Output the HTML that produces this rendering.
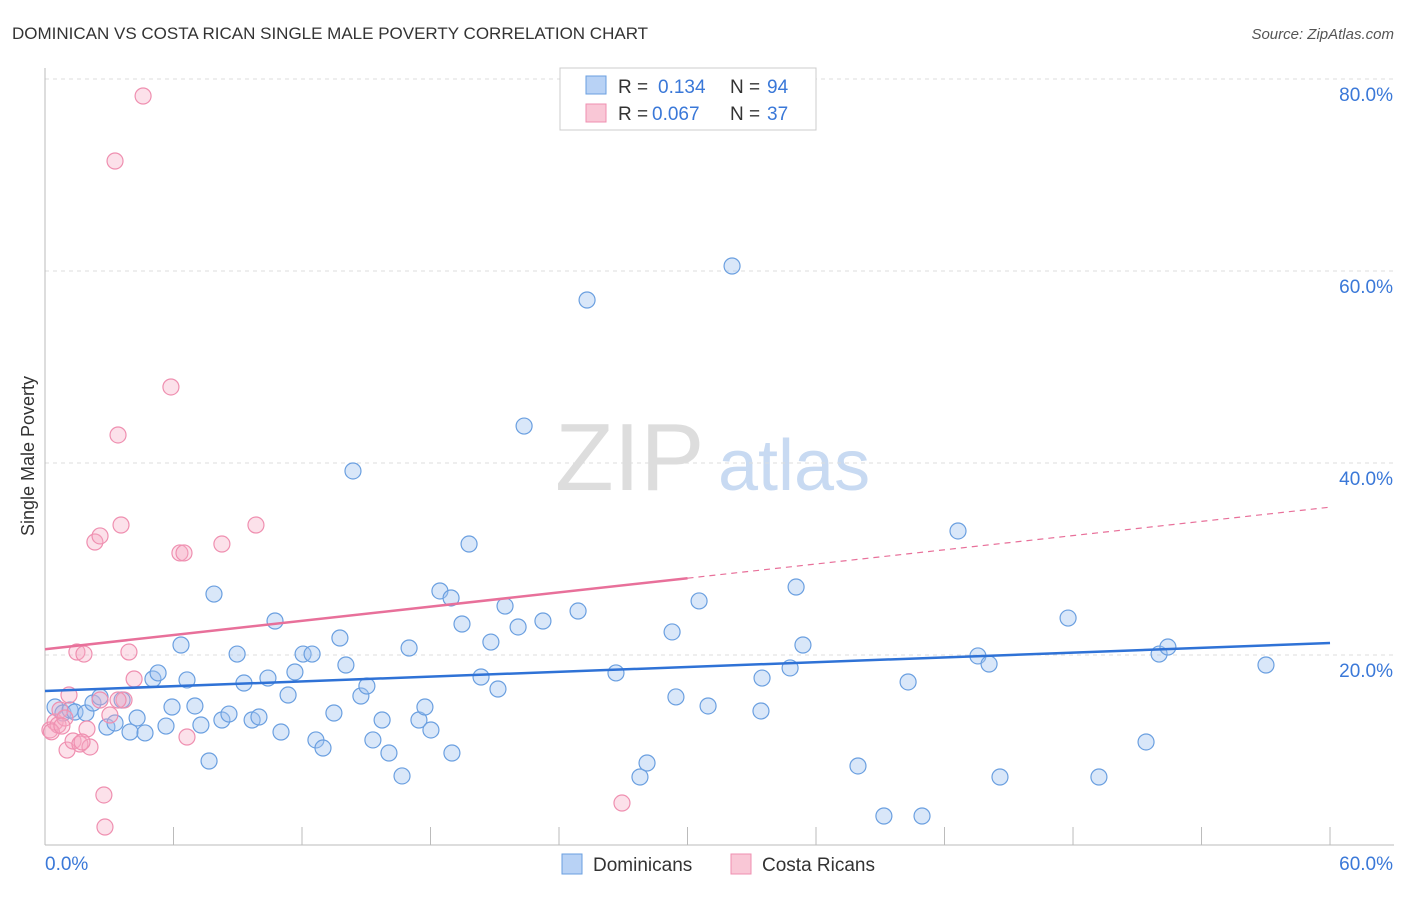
<!DOCTYPE html>
<html><head><meta charset="utf-8"><style>
body{margin:0;background:#fff;font-family:"Liberation Sans",sans-serif}
svg text{font-family:"Liberation Sans",sans-serif}
</style></head><body>
<svg id="c" width="1406" height="892">
<text x="12" y="39" font-size="17" fill="#333">DOMINICAN VS COSTA RICAN SINGLE MALE POVERTY CORRELATION CHART</text>
<text x="1394" y="39" font-size="15" fill="#555" font-style="italic" text-anchor="end">Source: ZipAtlas.com</text>
<text x="34" y="456" font-size="18" fill="#333" text-anchor="middle" transform="rotate(-90 34 456)">Single Male Poverty</text>
<text x="555" y="490" font-size="96" fill="#ddd" font-family="Liberation Serif">ZIP</text>
<text x="718" y="490" font-size="72" fill="#c8daf2">atlas</text>
<g id="grid"></g><g id="pts"></g><g id="lines"></g>
<g>
<rect x="560" y="68" width="256" height="62" fill="#fff" stroke="#ccc"/>
<rect x="586" y="76" width="20" height="18" fill="#b8d2f5" stroke="#6a9fe0"/>
<text x="618" y="93" font-size="19" fill="#333">R = </text><text x="658" y="93" font-size="19" fill="#3a78d8">0.134</text>
<text x="730" y="93" font-size="19" fill="#333">N = </text><text x="767" y="93" font-size="19" fill="#3a78d8">94</text>
<rect x="586" y="104" width="20" height="18" fill="#f9c7d6" stroke="#ef8fb0"/>
<text x="618" y="120" font-size="19" fill="#333">R = </text><text x="652" y="120" font-size="19" fill="#3a78d8">0.067</text>
<text x="730" y="120" font-size="19" fill="#333">N = </text><text x="767" y="120" font-size="19" fill="#3a78d8">37</text>
</g>
<g>
<rect x="562" y="854" width="20" height="20" fill="#b8d2f5" stroke="#6a9fe0"/>
<text x="593" y="871" font-size="19" fill="#333">Dominicans</text>
<rect x="731" y="854" width="20" height="20" fill="#f9c7d6" stroke="#ef8fb0"/>
<text x="762" y="871" font-size="19" fill="#333">Costa Ricans</text>
</g>
</svg>
<script>
const xTicks=[0,6,12,18,24,30,36,42,48,54,60];
const yTicks=[20,40,60,80];
const yTickLabels=["20.0%","40.0%","60.0%","80.0%"];
const domX=[0.47,0.84,1.17,1.40,1.91,2.24,2.57,2.89,3.27,3.60,3.97,4.30,4.67,5.04,5.28,5.65,5.93,6.35,6.63,7.0,7.28,7.66,7.89,8.26,8.59,8.97,9.29,9.67,9.99,10.41,10.74,11.02,11.35,11.67,12.05,12.47,12.65,12.98,13.49,13.77,14.05,14.38,14.75,15.03,15.31,15.74,16.06,16.67,17.0,17.46,17.74,18.02,18.44,18.96,19.0,19.47,19.8,20.36,20.82,21.15,21.48,22.09,22.37,23.25,24.89,25.31,26.66,27.78,28.11,29.28,29.46,30.54,30.96,32.08,33.43,33.48,34.79,35.07,35.39,37.96,39.17,40.3,40.95,42.63,43.56,44.08,44.59,47.77,49.21,51.41,52.02,52.43,57.01];
const domY=[14.58,13.96,14.27,14.06,13.96,15.0,15.63,12.5,12.92,15.31,11.98,13.44,11.88,17.5,18.13,12.6,14.58,21.04,17.4,14.69,12.71,8.96,26.35,13.23,13.85,20.1,17.08,13.23,13.54,17.6,23.54,11.98,15.83,18.23,20.1,20.1,11.15,10.31,13.96,21.77,18.96,39.17,15.73,16.77,11.15,13.23,9.79,7.4,20.73,13.23,14.58,12.19,26.67,25.94,9.79,23.23,31.56,17.71,21.35,16.46,25.1,22.92,43.85,23.54,24.58,56.98,18.13,7.29,8.75,22.4,15.63,25.63,14.69,60.52,14.17,17.6,18.65,27.08,21.04,8.44,3.23,17.19,3.23,32.92,19.9,19.06,7.29,23.85,7.29,10.94,20.1,20.83,18.96];
const crX=[0.23,0.47,0.61,0.70,0.93,1.03,1.12,1.31,1.49,1.63,1.82,1.96,2.10,2.33,2.57,2.75,2.80,3.03,3.27,3.41,3.55,3.69,3.92,4.16,4.58,5.88,6.30,6.49,6.63,8.26,9.85,26.94,0.3,1.73,0.79,2.57,3.41];
const crY=[12.19,13.02,12.71,14.27,13.44,10.1,15.83,11.04,20.31,10.73,20.1,12.29,10.42,31.77,32.4,5.42,2.08,13.75,71.46,42.92,33.54,15.31,20.31,17.5,78.23,47.92,30.63,30.63,11.46,31.56,33.54,4.58,12.0,10.94,12.6,15.31,15.31];
const domTrend=[[0,16.25],[60,21.25]];
const crTrend=[[0,20.6],[30,28.0],[60,35.4]];
const NS="http://www.w3.org/2000/svg";
const X=v=>45+v*21.417, Y=v=>847-v*9.6;
function mk(p,t,a){const e=document.createElementNS(NS,t);for(const k in a)e.setAttribute(k,a[k]);p.appendChild(e);return e;}
const g=document.getElementById('grid'),P=document.getElementById('pts'),L=document.getElementById('lines');
yTicks.forEach((t,i)=>{
 const l=mk(g,'line',{x1:45,x2:1394,y1:Y(t),y2:Y(t),stroke:'#ddd','stroke-dasharray':'4,4'});
 
 
 const tx=mk(g,'text',{x:1393,y:Y(t)+22,'font-size':19,fill:'#3a78d8','text-anchor':'end'});tx.textContent=yTickLabels[i];
 
 
});
const ax=mk(g,'line',{x1:45,x2:1394,y1:845,y2:845,stroke:'#bbb'});


const ay=mk(g,'line',{x1:45,x2:45,y1:68,y2:845,stroke:'#bbb'});


xTicks.forEach(t=>{const l=mk(g,'line',{x1:X(t),x2:X(t),y1:827,y2:845,stroke:'#bbb'});
 
 });
[[0,'0.0%','start',45],[60,'60.0%','end',1393]].forEach(([v,s,a,x])=>{const t=mk(g,'text',{x:x,y:870,'font-size':19,fill:'#3a78d8','text-anchor':a});t.textContent=s;
 
 });
domX.forEach((v,i)=>{const c=mk(P,'circle',{cx:X(v),cy:Y(domY[i]),r:8,fill:'rgba(160,195,240,0.4)',stroke:'#6a9fe0','stroke-width':1.2});
 
 });
crX.forEach((v,i)=>{const c=mk(P,'circle',{cx:X(v),cy:Y(crY[i]),r:8,fill:'rgba(245,170,195,0.35)',stroke:'#ef8fb0','stroke-width':1.2});
 
 });
const bl=mk(L,'line',{x1:X(domTrend[0][0]),y1:Y(domTrend[0][1]),x2:X(domTrend[1][0]),y2:Y(domTrend[1][1]),stroke:'#2f72d6','stroke-width':2.5});


const pl=mk(L,'line',{x1:X(crTrend[0][0]),y1:Y(crTrend[0][1]),x2:X(crTrend[1][0]),y2:Y(crTrend[1][1]),stroke:'#e8709a','stroke-width':2.5});


const pd=mk(L,'line',{x1:X(crTrend[1][0]),y1:Y(crTrend[1][1]),x2:X(crTrend[2][0]),y2:Y(crTrend[2][1]),stroke:'#e8709a','stroke-width':1.2,'stroke-dasharray':'6,5'});


</script>
</body></html>
